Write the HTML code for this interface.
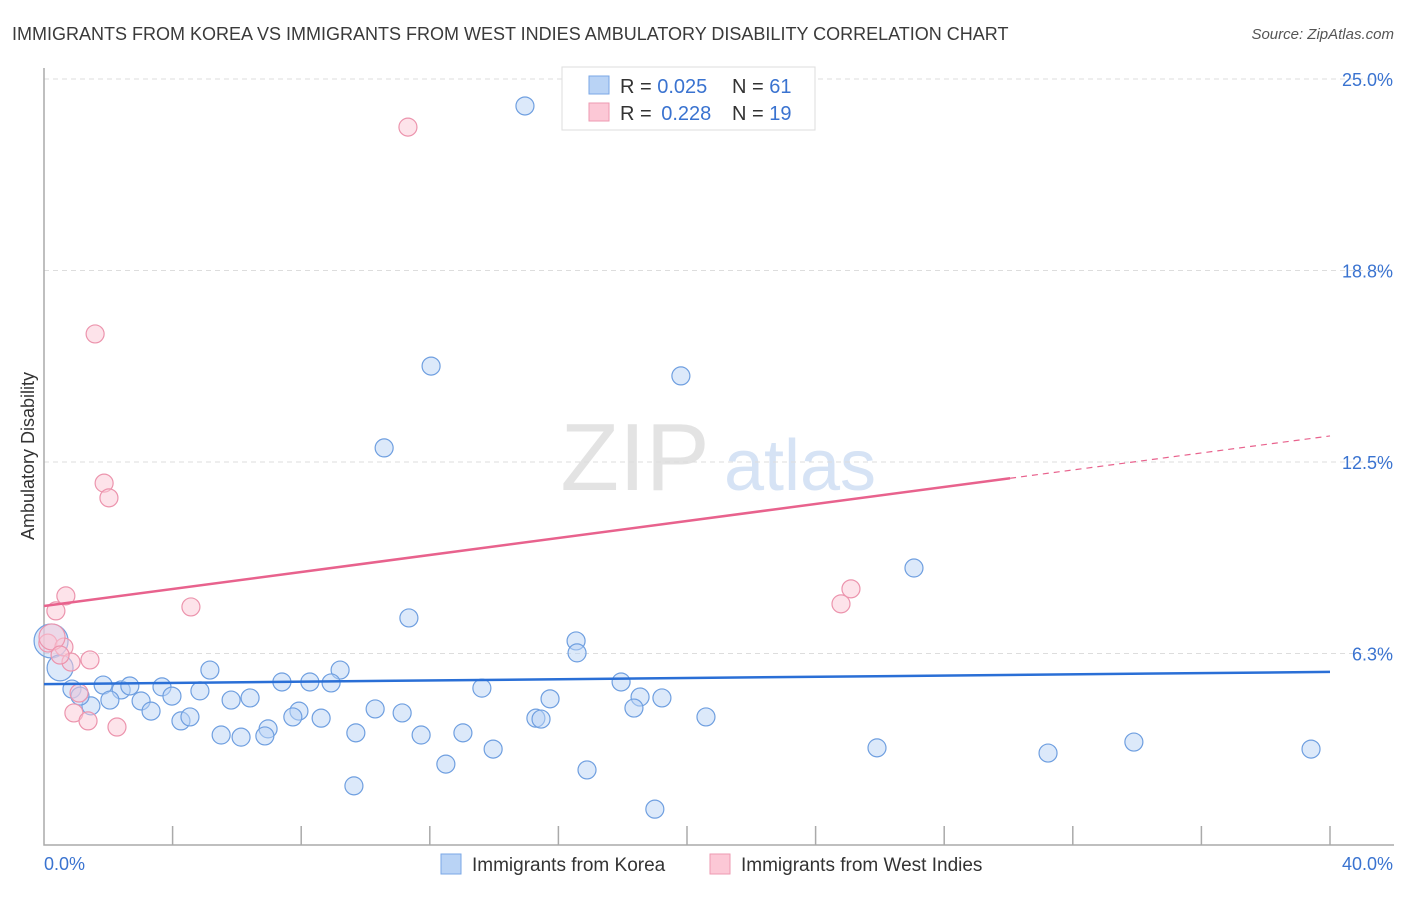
<!DOCTYPE html>
<html><head><meta charset="utf-8"><style>
body{margin:0;background:#fff;font-family:"Liberation Sans",sans-serif}
svg text{font-family:"Liberation Sans",sans-serif}
</style></head><body>
<svg id="c" width="1406" height="892">
<text x="12" y="40" font-size="18" fill="#3a3a3a">IMMIGRANTS FROM KOREA VS IMMIGRANTS FROM WEST INDIES AMBULATORY DISABILITY CORRELATION CHART</text>
<text x="1394" y="39" font-size="15" fill="#555" font-style="italic" text-anchor="end">Source: ZipAtlas.com</text>
<text x="34" y="456" font-size="18" fill="#333" text-anchor="middle" transform="rotate(-90 34 456)">Ambulatory Disability</text>
<g><text x="635" y="490" font-size="96" fill="#e3e3e3" font-family="Liberation Serif" text-anchor="middle">ZIP</text><text x="800" y="490" font-size="72" fill="#d6e3f5" text-anchor="middle">atlas</text></g>
<g id="grid"></g><g id="axes"></g><g id="marks"></g>
<g>
<rect x="562" y="67" width="253" height="63" fill="#fff" stroke="#ddd"/>
<rect x="589" y="76" width="20" height="18" fill="#b9d3f5" stroke="#7aa7e6"/>
<rect x="589" y="103" width="20" height="18" fill="#fcc8d6" stroke="#ee9ab1"/>
<text x="620" y="93" font-size="20" fill="#333">R = <tspan fill="#3a73d0">0.025</tspan><tspan x="732">N = </tspan><tspan fill="#3a73d0">61</tspan></text>
<text x="620" y="120" font-size="20" fill="#333">R = <tspan fill="#3a73d0" dx="4">0.228</tspan><tspan x="732">N = </tspan><tspan fill="#3a73d0">19</tspan></text>
</g>
<g>
<rect x="441" y="854" width="20" height="20" fill="#b9d3f5" stroke="#7aa7e6"/>
<text x="472" y="871" font-size="19" fill="#333">Immigrants from Korea</text>
<rect x="710" y="854" width="20" height="20" fill="#fcc8d6" stroke="#ee9ab1"/>
<text x="741" y="871" font-size="19" fill="#333">Immigrants from West Indies</text>
</g>
</svg>
<script>
const yTicks=[6.25,12.5,18.75,25];
const yTickLabels=["6.3%","12.5%","18.8%","25.0%"];
const koreaX=[14.96,12.04,19.81,10.58,27.06,11.35,16.55,16.58,9.21,5.16,0.22,0.50,0.87,1.84,2.40,2.67,3.67,2.05,3.02,3.98,4.85,1.46,3.33,4.26,4.54,5.82,6.41,7.40,8.27,8.93,7.93,7.74,8.62,6.97,5.51,6.13,6.87,9.70,10.30,11.14,11.73,13.03,13.62,15.30,15.46,15.74,17.95,18.54,18.35,19.22,20.59,13.97,12.50,16.89,9.64,19.00,25.91,31.23,33.90,39.41,1.12];
const koreaY=[24.12,15.63,15.31,12.96,9.04,7.41,6.66,6.27,5.71,5.71,6.66,5.78,5.09,5.22,5.06,5.19,5.16,4.73,4.70,4.86,5.03,4.54,4.37,4.05,4.18,4.73,4.80,5.32,5.32,5.29,4.37,4.18,4.14,3.79,3.59,3.52,3.56,3.66,4.44,4.31,3.59,3.66,5.12,4.14,4.11,4.77,5.32,4.83,4.47,4.80,4.18,3.13,2.64,2.45,1.93,1.17,3.17,3.00,3.36,3.13,4.86];
const koreaW=[1,1,1,1,1,1,1,1,1,1,3,2,1,1,1,1,1,1,1,1,1,1,1,1,1,1,1,1,1,1,1,1,1,1,1,1,1,1,1,1,1,1,1,1,1,1,1,1,1,1,1,1,1,1,1,1,1,1,1,1,1];
const wiX=[11.32,1.59,1.87,2.02,0.68,0.37,4.57,25.10,24.79,0.12,0.62,0.84,1.43,1.09,0.93,1.37,2.27,0.25,0.50];
const wiY=[23.43,16.68,11.81,11.33,8.13,7.64,7.77,8.36,7.87,6.59,6.46,5.97,6.04,4.96,4.31,4.05,3.85,6.79,6.20];
const wiW=[1,1,1,1,1,1,1,1,1,1,1,1,1,1,1,1,1,2,1];
const koreaTrend=[5.25,5.65];
const wiTrend=[7.80,13.35];
const wiSolidEnd=30.05;
const X0=44,X1=1330,Y0=845;
const sx=v=>X0+(X1-X0)*v/40, sy=v=>Y0-v*30.64;
const NS="http://www.w3.org/2000/svg";
function mk(p,t,a){const e=document.createElementNS(NS,t);for(const k in a)e.setAttribute(k,a[k]);p.appendChild(e);return e;}
const grid=document.getElementById('grid'),axes=document.getElementById('axes'),marks=document.getElementById('marks');
yTicks.forEach((t,i)=>{
 const l=mk(grid,'line',{x1:X0,x2:1394,y1:sy(t),y2:sy(t),stroke:'#ddd','stroke-dasharray':'5,4'});
 
 
 const tx=mk(axes,'text',{x:1393,y:sy(t)+7,'font-size':18,fill:'#3a73d0','text-anchor':'end'});
 tx.textContent=yTickLabels[i];
 
 
});
const ax=mk(axes,'path',{d:`M${X0},68V${Y0}H1394`,fill:'none',stroke:'#aaa','stroke-width':1.5});


for(let i=1;i<=10;i++){const t=mk(axes,'line',{x1:sx(i*4),x2:sx(i*4),y1:Y0,y2:Y0-19,stroke:'#aaa','stroke-width':1.5});
 
 }
const xl=mk(axes,'text',{x:44,y:870,'font-size':18,fill:'#3a73d0'});xl.textContent='0.0%';


const xr=mk(axes,'text',{x:1393,y:870,'font-size':18,fill:'#3a73d0','text-anchor':'end'});xr.textContent='40.0%';


function pts(xs,ys,ws,fill,stroke,name){xs.forEach((x,i)=>{const r=ws[i]==3?17:ws[i]==2?13:9;
 const c=mk(marks,'circle',{cx:sx(x),cy:sy(ys[i]),r:r,fill:fill,'fill-opacity':0.5,stroke:stroke,'stroke-width':1.2});
 
 });}
pts(koreaX,koreaY,koreaW,'#b9d3f5','#6f9fe0','korea-point');
pts(wiX,wiY,wiW,'#fcc8d6','#ec94ad','west-indies-point');
const kt=mk(marks,'line',{x1:sx(0),y1:sy(koreaTrend[0]),x2:sx(40),y2:sy(koreaTrend[1]),stroke:'#2a6fd6','stroke-width':2.5});


const wm=wiTrend[0]+(wiTrend[1]-wiTrend[0])*wiSolidEnd/40;
const wt=mk(marks,'line',{x1:sx(0),y1:sy(wiTrend[0]),x2:sx(wiSolidEnd),y2:sy(wm),stroke:'#e8628d','stroke-width':2.5});


const wd=mk(marks,'line',{x1:sx(wiSolidEnd),y1:sy(wm),x2:sx(40),y2:sy(wiTrend[1]),stroke:'#e8628d','stroke-width':1.2,'stroke-dasharray':'6,5'});


</script>
</body></html>
